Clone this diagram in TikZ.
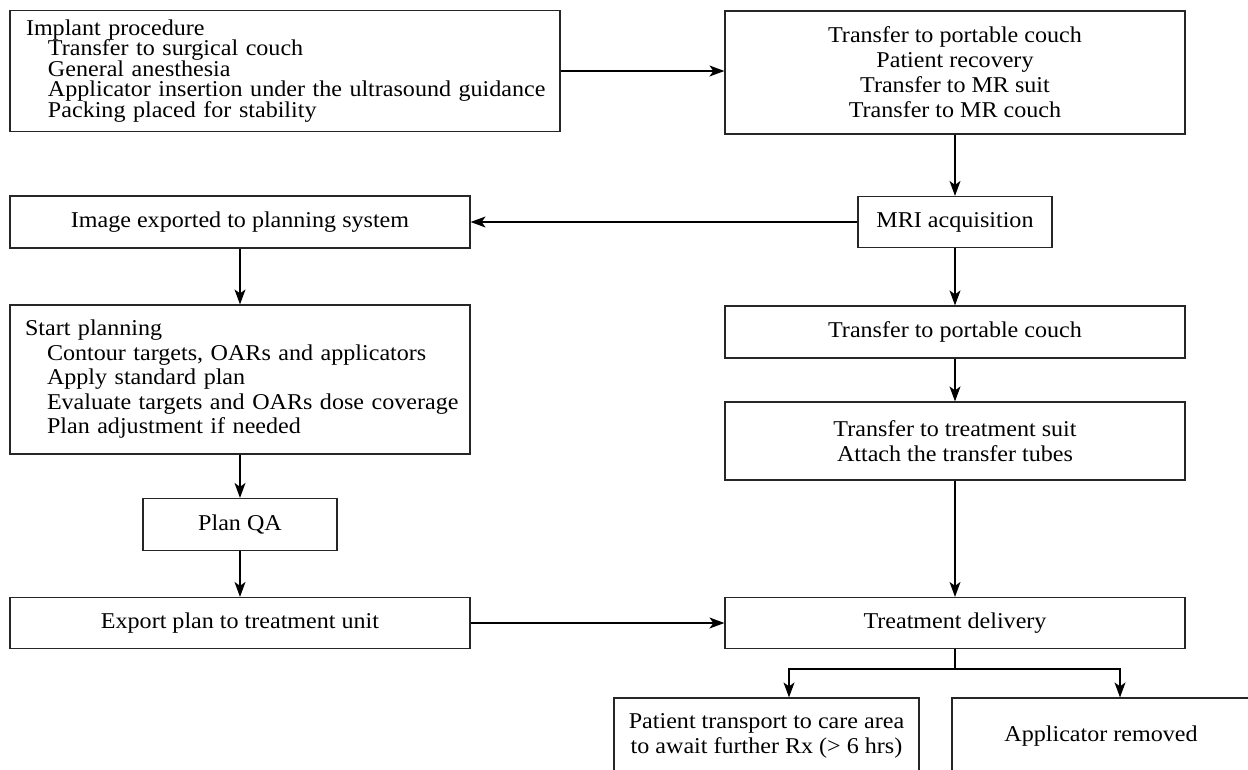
\documentclass[tikz,border=0pt]{standalone}
\usepackage{fontspec}
\setmainfont{Liberation Serif}[FakeStretch=1.065]
\usetikzlibrary{arrows.meta,calc}
\DeclareRobustCommand\mytightlines{\lineskiplimit=-20pt\relax\lineskip=0pt\relax}
\begin{document}
\begin{tikzpicture}[x=1pt,y=-1pt,
  box/.style={draw=black!85, line width=1.2pt, inner sep=0pt, font=\fontsize{22.6}{24.5}\selectfont, align=center},
  arr/.style={line width=1.2pt, -{Stealth[length=15pt,width=11pt,inset=4pt]}},
  ln/.style={line width=1.2pt}]
\useasboundingbox (0,0) rectangle (1248,769);
% left column
\node[box, minimum width=550, minimum height=121, text width=518, align=left,
      font=\fontsize{22.6}{20.5}\selectfont\mytightlines] (b1) at (285,71)
  {\mbox{Implant procedure}\\
   \mbox{\hspace*{22pt}Transfer to surgical couch}\\
   \mbox{\hspace*{22pt}General anesthesia}\\
   \mbox{\hspace*{22pt}Applicator insertion under the ultrasound guidance}\\
   \mbox{\hspace*{22pt}Packing placed for stability}};
\node[box, minimum width=460, minimum height=52] (img) at (240,222) {Image exported to planning system};
\node[box, minimum width=460, minimum height=149, text width=430, align=left] (plan) at (240,379.5)
  {\mbox{Start planning}\\
   \mbox{\hspace*{22pt}Contour targets, OARs and applicators}\\
   \mbox{\hspace*{22pt}Apply standard plan}\\
   \mbox{\hspace*{22pt}Evaluate targets and OARs dose coverage}\\
   \mbox{\hspace*{22pt}Plan adjustment if needed}};
\node[box, minimum width=194, minimum height=52] (qa) at (240,524.5) {Plan QA};
\node[box, minimum width=460, minimum height=51] (exp) at (240,623) {Export plan to treatment unit};
% right column
\node[box, minimum width=460, minimum height=123, font=\fontsize{22.6}{25}\selectfont] (b2) at (955,72.5)
  {Transfer to portable couch\\Patient recovery\\Transfer to MR suit\\Transfer to MR couch};
\node[box, minimum width=194, minimum height=51] (mri) at (955,222) {MRI acquisition};
\node[box, minimum width=460, minimum height=52] (c2) at (955,332) {Transfer to portable couch};
\node[box, minimum width=460, minimum height=78] (suit) at (955,441) {Transfer to treatment suit\\Attach the transfer tubes};
\node[box, minimum width=460, minimum height=51] (tx) at (955,623) {Treatment delivery};
\node[box, minimum width=305, minimum height=76] (p1) at (766.5,736) {Patient transport to care area\\to await further Rx (> 6 hrs)};
\node[box, minimum width=298, minimum height=76] (p2) at (1101,736) {Applicator removed};
% connectors
\draw[arr] (b1.east) -- (b1.east -| b2.west);
\draw[arr] (b2.south) -- (mri.north);
\draw[arr] (mri.west) -- (mri.west -| img.east);
\draw[arr] (img.south) -- (plan.north);
\draw[arr] (plan.south) -- (qa.north);
\draw[arr] (qa.south) -- (exp.north);
\draw[arr] (exp.east) -- (tx.west);
\draw[arr] (mri.south) -- (c2.north);
\draw[arr] (c2.south) -- (suit.north);
\draw[arr] (suit.south) -- (tx.north);
\coordinate (j) at (955,669);
\coordinate (jl) at (789,669);
\coordinate (jr) at (1120,669);
\draw[ln] (tx.south) -- (j);
\draw[arr] (j) -- (jl) -- (jl |- p1.north);
\draw[arr] (j) -- (jr) -- (jr |- p2.north);
\end{tikzpicture}
\end{document}
